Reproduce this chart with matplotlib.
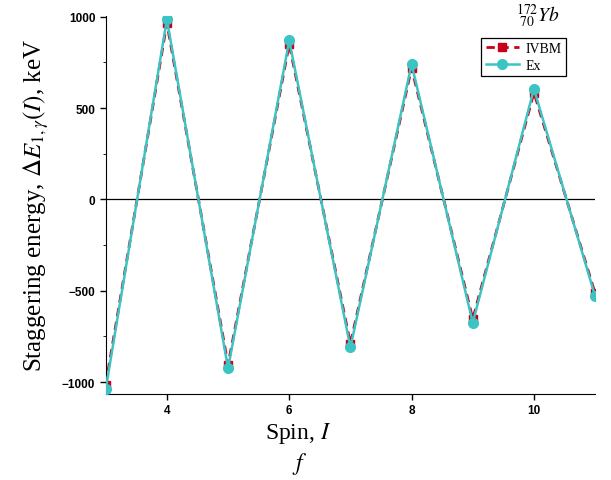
import numpy as np
import matplotlib.pyplot as plt
from matplotlib.ticker import MultipleLocator

spin = [3, 4, 5, 6, 7, 8, 9, 10, 11]
ivbm = [-1015, 965, -905, 850, -790, 720, -655, 585, -515]
ex = [-1040, 985, -925, 870, -810, 740, -675, 605, -530]

plt.rcParams['mathtext.fontset'] = 'stix'

fig = plt.figure(figsize=(6.11, 4.81), dpi=100)
ax = fig.add_axes([0.173, 0.179, 0.801, 0.786])

ax.plot(spin, ivbm, color='#c8001a', linestyle=(0, (3, 2)), linewidth=2,
        marker='s', markersize=6, label='IVBM', zorder=3)
ax.plot(spin, ex, color='#3cc4c4', linestyle='-', linewidth=1.8,
        marker='o', markersize=7, label='Ex', zorder=4)
ax.axhline(0, color='black', linewidth=0.9, zorder=1)

ax.set_xlim(3, 11)
ax.set_ylim(-1065, 1005)
ax.xaxis.set_major_locator(MultipleLocator(2))
ax.yaxis.set_major_locator(MultipleLocator(500))
ax.yaxis.set_minor_locator(MultipleLocator(250))
ax.spines['top'].set_visible(False)
ax.spines['right'].set_visible(False)
ax.tick_params(direction='out', length=4, width=1)
ax.tick_params(which='minor', length=2)
for lab in ax.get_xticklabels() + ax.get_yticklabels():
    lab.set_fontweight('bold')
    lab.set_fontsize(8.5)
    lab.set_family('Liberation Sans')

ax.set_ylabel(r'Staggering energy, $\Delta E_{1,\gamma}(I)$, keV',
              family='Liberation Serif', fontsize=18, labelpad=8)
ax.set_xlabel(r'Spin, $I$', family='Liberation Serif', fontsize=17)
ax.xaxis.set_label_coords(0.393, -0.07)
fig.text(0.49, 0.022, r'$f$', fontsize=17, ha='center')
fig.text(0.88, 0.955, r'$^{172}_{\ 70}Yb$', fontsize=14, ha='center')

leg = ax.legend(loc='upper right', bbox_to_anchor=(0.955, 0.96),
                prop={'family': 'Liberation Serif', 'size': 10},
                fancybox=False, edgecolor='black', framealpha=1,
                handlelength=2.4, handletextpad=0.5, borderpad=0.3,
                labelspacing=0.3)
leg.get_frame().set_linewidth(0.9)

fig.savefig('out.png', dpi=100)
